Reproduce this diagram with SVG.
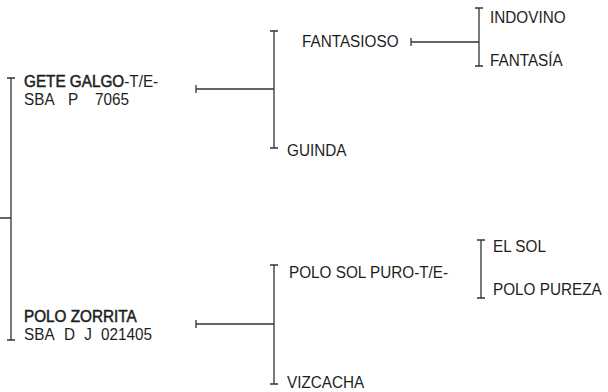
<svg xmlns="http://www.w3.org/2000/svg" width="608" height="392" viewBox="0 0 608 392">
<style>
text{font-family:"Liberation Sans",Arial,sans-serif;font-size:17px;fill:#1e1e1e;white-space:pre}
.b{stroke:#1e1e1e;stroke-width:0.55}
.c{stroke:#333;stroke-width:1.3;fill:none}
</style>
<rect width="608" height="392" fill="#fff"/>
<g id="connectors">
<path class="c" d="M0,218H11M11,78V340M7,78H15M7,340H15"/>
<path class="c" d="M196,85V93M196,89H274M274,31V148M270,31H278M270,148H278"/>
<path class="c" d="M196,320V328M196,324H274M274,265V384M270,265H278M270,384H278"/>
<path class="c" d="M411,38V46M411,42H479M479,8V66M475,8H483M475,66H483"/>
<path class="c" d="M481,240V298M477,240H485M477,298H485"/>
</g>
<g id="n-gete" transform="scale(0.9 1)"><text x="26.67" y="87"><tspan class="b">GETE GALGO</tspan>-T/E-</text><text y="105"><tspan x="26.67">SBA</tspan><tspan x="75.56">P</tspan><tspan x="105.56">7065</tspan></text></g>
<g id="n-zorrita" transform="scale(0.9 1)"><text x="26.67" y="322" class="b">POLO ZORRITA</text><text y="340"><tspan x="26.67">SBA</tspan><tspan x="71">D</tspan><tspan x="93.6">J</tspan><tspan x="112.22">021405</tspan></text></g>
<g id="n-fantasioso" transform="scale(0.9 1)"><text x="335.56" y="47">FANTASIOSO</text></g>
<g id="n-guinda" transform="scale(0.9 1)"><text x="318.89" y="156">GUINDA</text></g>
<g id="n-polosol" transform="scale(0.9 1)"><text x="321.11" y="278">POLO SOL PURO-T/E-</text></g>
<g id="n-vizcacha" transform="scale(0.9 1)"><text x="318.89" y="388">VIZCACHA</text></g>
<g id="n-indovino" transform="scale(0.9 1)"><text x="544.44" y="23">INDOVINO</text></g>
<g id="n-fantasia" transform="scale(0.9 1)"><text x="544.44" y="66">FANTASÍA</text></g>
<g id="n-elsol" transform="scale(0.9 1)"><text x="547.78" y="252">EL SOL</text></g>
<g id="n-pureza" transform="scale(0.9 1)"><text x="547.78" y="295">POLO PUREZA</text></g>
</svg>
